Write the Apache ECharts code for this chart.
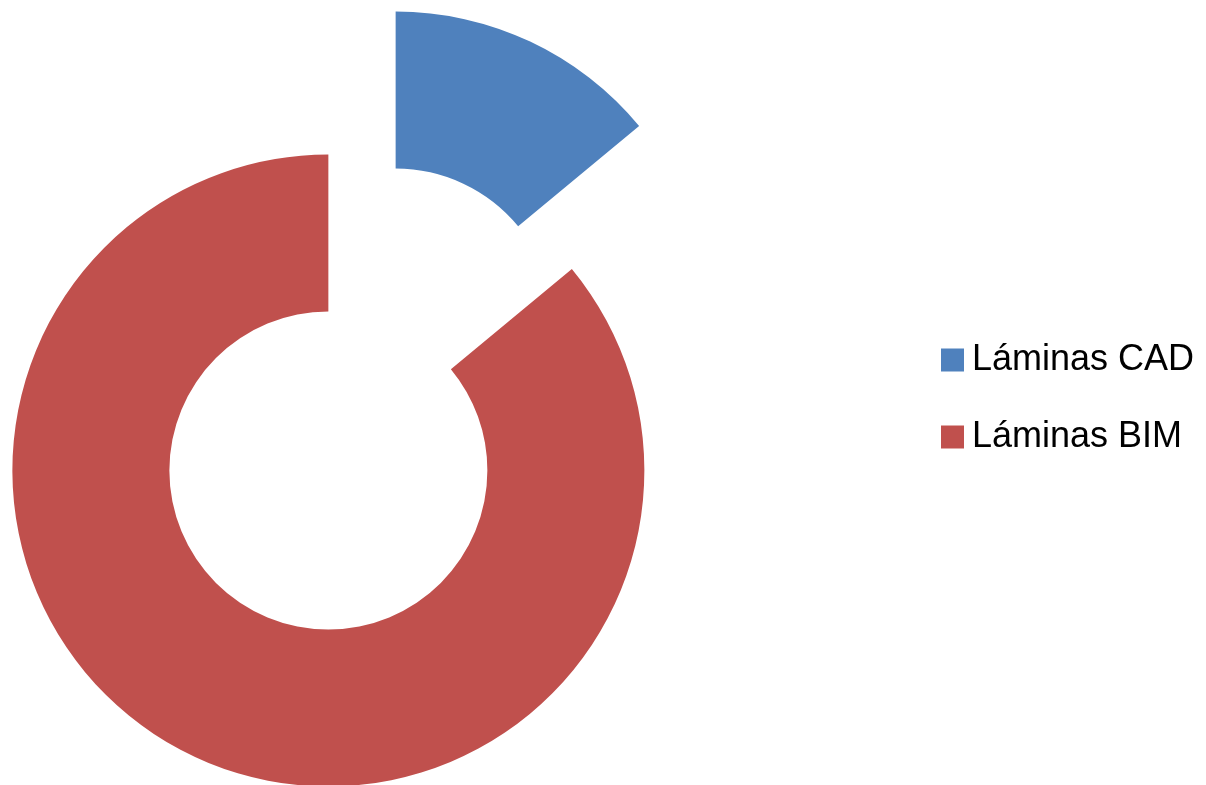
<!DOCTYPE html>
<html>
<head>
<meta charset="utf-8">
<script src="https://cdn.jsdelivr.net/npm/echarts@6/dist/echarts.min.js"></script>
<style>
html,body{margin:0;padding:0;background:#fff;}
#chart{width:1206px;height:785px;}
</style>
</head>
<body>
<div id="chart"></div>
<script>
const categories = ['Láminas CAD', 'Láminas BIM'];
const values = [14, 86];
const colors = ['#4F81BD', '#C0504D'];

const chart = echarts.init(document.getElementById('chart'), null, {renderer: 'canvas'});
chart.setOption({
  animation: false,
  backgroundColor: '#ffffff',
  legend: {
    orient: 'vertical',
    left: 941,
    top: 342,
    padding: 0,
    itemWidth: 23,
    itemHeight: 23,
    itemGap: 41,
    icon: 'rect',
    selectedMode: false,
    data: categories,
    textStyle: {
      fontFamily: 'Liberation Sans',
      fontSize: 36,
      lineHeight: 36,
      color: '#000',
      padding: [0, 0, 0, 3]
    }
  },
  series: [{
    type: 'pie',
    center: [362, 399],
    radius: [159, 316],
    startAngle: 90,
    clockwise: true,
    selectedMode: 'multiple',
    selectedOffset: 79,
    label: {show: false},
    labelLine: {show: false},
    emphasis: {disabled: true},
    itemStyle: {borderWidth: 0},
    data: categories.map((c, i) => ({
      name: c,
      value: values[i],
      selected: true,
      itemStyle: {color: colors[i]}
    }))
  }]
});
</script>
</body>
</html>
